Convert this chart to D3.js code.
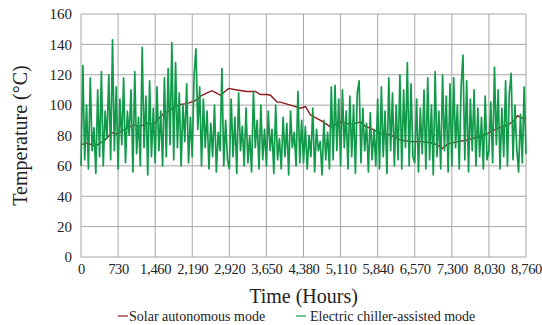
<!DOCTYPE html>
<html>
<head>
<meta charset="utf-8">
<script src="https://cdn.jsdelivr.net/npm/d3@7"></script>
<style>
  body { margin: 0; background: #fff; font-family: "Times New Roman", "Liberation Serif", serif; }
  svg text { font-family: "Times New Roman", "Liberation Serif", serif; fill: #222; }
</style>
</head>
<body>
<div id="chart"></div>
<script>
// Tick values
const xTicks = [0, 730, 1460, 2190, 2920, 3650, 4380, 5110, 5840, 6570, 7300, 8030, 8760];
const yTicks = [0, 20, 40, 60, 80, 100, 120, 140, 160];

// Solar autonomous mode (hours, temperature)
const solarHours = [0, 125, 276, 380, 474, 605, 700, 803, 920, 1032, 1160, 1296, 1427, 1530, 1624, 1720, 1821, 1953, 2085, 2250,
  2381, 2480, 2578, 2660, 2742, 2907, 3071, 3268, 3433, 3531, 3663, 3729, 3860, 3926, 4123, 4321, 4420, 4518, 4716, 4913,
  5110, 5220, 5340, 5505, 5600, 5702, 5900, 6097, 6294, 6491, 6689, 6886, 7000, 7117, 7215, 7413, 7610, 7807, 8004, 8202,
  8399, 8500, 8596, 8680, 8760];
const solarTemp = [74, 75, 73, 75, 77, 82, 81, 83, 85, 87, 86, 88, 87.5, 91, 94.5, 96, 98.5, 100.5, 101, 103,
  106.5, 108, 109.5, 108, 106.5, 111, 110, 109, 109, 107, 107, 106.5, 102, 102, 100, 98, 99, 93.5, 90, 85.7,
  89, 88, 87.5, 89, 86, 84.7, 81.4, 80.3, 77, 76, 76, 75.2, 74, 71.5, 74.3, 76, 77, 79, 81.4, 84.7,
  87, 89, 93, 91.5, 91];

// Electric chiller-assisted mode, one value every 36.5 hours
const chillerStep = 36.5;
const chillerTemp = [
  60, 126, 64, 100, 58, 118, 70, 85, 55, 110, 66, 122, 60, 96, 78, 120, 64, 143, 70, 112,
  58, 104, 74, 118, 62, 96, 80, 110, 56, 122, 68, 92, 60, 138, 72, 106, 54, 116, 66, 98,
  62, 112, 70, 96, 60, 118, 66, 124, 74, 141, 64, 128, 72, 108, 60, 100, 76, 114, 62, 92,
  66, 120, 137, 84, 112, 60, 104, 72, 96, 58, 88, 66, 100, 56, 82, 70, 124, 60, 90, 64,
  58, 104, 66, 92, 55, 108, 70, 86, 60, 98, 62, 80, 56, 109, 72, 90, 58, 100, 64, 84,
  60, 96, 70, 84, 55, 100, 64, 78, 58, 92, 66, 88, 54, 96, 72, 82, 60, 109, 62, 90,
  62, 86, 58, 80, 66, 98, 56, 84, 70, 76, 54, 90, 64, 82, 58, 112, 64, 113, 70, 104,
  60, 110, 72, 96, 58, 106, 66, 100, 55, 108, 116, 62, 98, 70, 88, 56, 95, 64, 84, 60,
  104, 58, 112, 66, 96, 55, 118, 70, 108, 60, 100, 64, 120, 58, 110, 72, 128, 60, 114, 66,
  62, 104, 56, 98, 68, 110, 58, 118, 64, 100, 54, 122, 66, 96, 58, 120, 70, 106, 56, 114,
  60, 118, 72, 100, 58, 112, 133, 64, 116, 56, 104, 70, 110, 60, 98, 66, 92, 58, 106, 64,
  70, 102, 62, 125, 74, 110, 58, 98, 66, 116, 60, 108, 121, 64, 100, 72, 56, 94, 62, 112,
  68];

const seriesNames = ["Solar autonomous mode", "Electric chiller-assisted mode"];
const seriesColors = ["#8b1a1a", "#109a4a"];

const solarData = solarHours.map((h, i) => ({ h: h, t: solarTemp[i] }));
const chillerData = chillerTemp.map((t, i) => ({ h: i * chillerStep, t: t }));

const W = 542, H = 325;
const margin = { top: 14, right: 16, bottom: 68, left: 81 };
const width = W - margin.left - margin.right;
const height = H - margin.top - margin.bottom;

const svg = d3.select("#chart").append("svg")
  .attr("width", W)
  .attr("height", H)
  .style("display", "block");

const g = svg.append("g")
  .attr("transform", "translate(" + margin.left + "," + margin.top + ")");

const x = d3.scaleLinear().domain([0, 8760]).range([0, width]);
const y = d3.scaleLinear().domain([0, 160]).range([height, 0]);

// gridlines
g.append("g")
  .selectAll("line")
  .data(yTicks)
  .enter().append("line")
  .attr("x1", 0).attr("x2", width)
  .attr("y1", d => y(d)).attr("y2", d => y(d))
  .attr("stroke", "#a6a6a6").attr("stroke-width", 1);

g.append("g")
  .selectAll("line")
  .data(xTicks)
  .enter().append("line")
  .attr("x1", d => x(d)).attr("x2", d => x(d))
  .attr("y1", 0).attr("y2", height)
  .attr("stroke", "#a6a6a6").attr("stroke-width", 1);

// axes (labels only)
const xAxis = d3.axisBottom(x).tickValues(xTicks).tickSize(0).tickPadding(7)
  .tickFormat(d3.format(","));
const yAxis = d3.axisLeft(y).tickValues(yTicks).tickSize(0).tickPadding(9);

g.append("g")
  .attr("transform", "translate(0," + height + ")")
  .call(xAxis)
  .attr("font-family", null)
  .attr("font-size", null)
  .call(s => s.select(".domain").remove())
  .selectAll("text")
  .attr("font-size", 14.5)
  .attr("letter-spacing", -0.3);

g.append("g")
  .call(yAxis)
  .attr("font-family", null)
  .attr("font-size", null)
  .call(s => s.select(".domain").remove())
  .selectAll("text")
  .attr("font-size", 15);

// lines
const line = d3.line()
  .x(d => x(d.h))
  .y(d => y(d.t));

g.append("path")
  .datum(solarData)
  .attr("fill", "none")
  .attr("stroke", seriesColors[0])
  .attr("stroke-width", 1.4)
  .attr("d", line);

g.append("path")
  .datum(chillerData)
  .attr("fill", "none")
  .attr("stroke", seriesColors[1])
  .attr("stroke-width", 1.7)
  .attr("stroke-linejoin", "round")
  .attr("d", line);

// axis titles
svg.append("text")
  .attr("transform", "translate(20," + (margin.top + height / 2) + ") rotate(-90)")
  .attr("text-anchor", "middle")
  .attr("dy", "0.35em")
  .attr("font-size", 20)
  .text("Temperature (°C)");

svg.append("text")
  .attr("x", margin.left + width / 2)
  .attr("y", 303)
  .attr("text-anchor", "middle")
  .attr("font-size", 20)
  .text("Time (Hours)");

// legend
const legendX = [118, 296];
const legend = svg.append("g").attr("transform", "translate(0,316)");
seriesNames.forEach((name, i) => {
  legend.append("line")
    .attr("x1", legendX[i]).attr("x2", legendX[i] + 10)
    .attr("y1", 0).attr("y2", 0)
    .attr("stroke", seriesColors[i]).attr("stroke-width", 1.2);
  legend.append("text")
    .attr("x", legendX[i] + 11 + i * 3)
    .attr("dy", "0.35em")
    .attr("font-size", 14)
    .text(name);
});
</script>
</body>
</html>
